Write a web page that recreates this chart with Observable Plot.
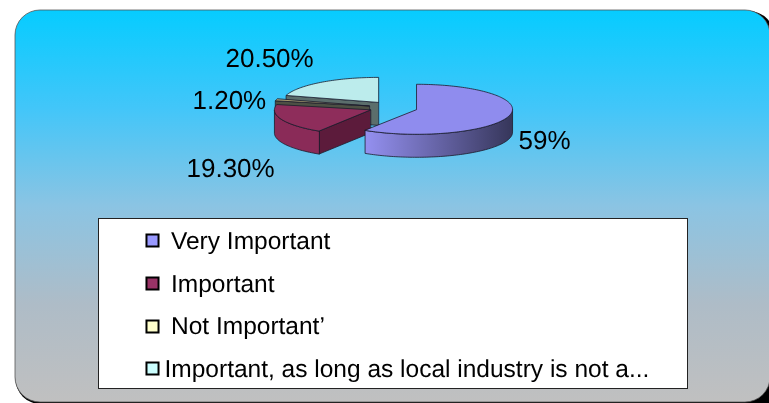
<!DOCTYPE html>
<html>
<head>
<meta charset="utf-8">
<script src="https://cdn.jsdelivr.net/npm/d3@7"></script>
<script src="https://cdn.jsdelivr.net/npm/@observablehq/plot@0.6"></script>
<style>
html,body{margin:0;padding:0;background:#fff;overflow:hidden}
svg{display:block;filter:blur(0.35px);text-rendering:geometricPrecision}
</style>
</head>
<body>
<div id="chart"></div>
<script>
const categories = ["Very Important", "Important", "Not Important’", "Important, as long as local industry is not a..."];
const values = [59, 19.3, 1.2, 20.5];
const valueLabels = ["59%", "19.30%", "1.20%", "20.50%"];
const swatchColors = ["#9999ff", "#993366", "#ffffcc", "#ccffff"];

const W = 769, H = 403, FONT = "Liberation Sans, Arial, sans-serif";

// pie geometry: exploded, tilted pie
const C0 = [392.5, 107], RX = 96, RY = 25, DEPTH = 23, EXPLODE = 24.5;
const topFill = ["#8f8cee", "#8e2d5b", "#a89c70", "#bcecec"];
const cutFill = ["#3f3f68", "#5c1b3b", "#4d5044", "#5b6e6c"];
const sideFill = ["url(#sideA)", "#8a2b58", "#6e6a50", "#7ca0a0"];

const total = d3.sum(values);
let acc = 0;
const slices = values.map((v, i) => {
  const a0 = acc / total * 2 * Math.PI; acc += v;
  const a1 = acc / total * 2 * Math.PI;
  const mid = (a0 + a1) / 2;
  const c = [C0[0] + EXPLODE * Math.sin(mid), C0[1] - EXPLODE * Math.cos(mid) * RY / RX];
  return {i, a0, a1, c};
});
const rim = (s, a, dz = 0) => [s.c[0] + RX * Math.sin(a), s.c[1] - RY * Math.cos(a) + dz];
const arc = (s, a0, a1, dz = 0) => {
  const n = Math.max(2, Math.ceil((a1 - a0) * 40));
  return d3.range(n + 1).map(k => rim(s, a0 + (a1 - a0) * k / n, dz));
};
const polys = [];
for (const i of [3, 2, 1, 0]) {
  const s = slices[i];
  const low = p => [p[0], p[1] + DEPTH];
  if (s.a0 > Math.PI) {
    const r = rim(s, s.a0);
    polys.push({pts: [s.c, r, low(r), low(s.c)], fill: cutFill[i]});
  }
  if (s.a1 < Math.PI) {
    const r = rim(s, s.a1);
    polys.push({pts: [s.c, r, low(r), low(s.c)], fill: cutFill[i]});
  }
  const f0 = Math.max(s.a0, Math.PI / 2), f1 = Math.min(s.a1, 1.5 * Math.PI);
  if (f1 > f0) {
    polys.push({pts: [...arc(s, f0, f1), ...arc(s, f0, f1, DEPTH).reverse()], fill: sideFill[i]});
  }
  polys.push({pts: [s.c, ...arc(s, s.a0, s.a1)], fill: topFill[i]});
}

const gradStops = [[0, "#06ccff"], [25, "#42c6f9"], [50, "#8bc4e3"], [75, "#aebcc7"], [100, "#c0c0c0"]];
const defs = () => {
  const d = d3.create("svg:defs");
  const bg = d.append("linearGradient").attr("id", "bgGrad").attr("x1", 0).attr("x2", 0).attr("y1", 0).attr("y2", 1);
  for (const [o, c] of gradStops) bg.append("stop").attr("offset", o + "%").attr("stop-color", c);
  const side = d.append("linearGradient").attr("id", "sideA").attr("gradientUnits", "userSpaceOnUse")
    .attr("x1", 365).attr("x2", 512).attr("y1", 0).attr("y2", 0);
  side.append("stop").attr("offset", "0%").attr("stop-color", "#9490f0");
  side.append("stop").attr("offset", "100%").attr("stop-color", "#36365a");
  return d.node();
};

const labelRows = [
  {t: valueLabels[0], x: 518, y: 148},
  {t: valueLabels[1], x: 186, y: 176},
  {t: valueLabels[2], x: 192, y: 108},
  {t: valueLabels[3], x: 225, y: 66}
];
const legendRows = categories.map((c, i) => ({
  c, col: swatchColors[i],
  sy: [240, 283, 326, 368][i],
  ty: [248, 291, 333, 376][i],
  tx: i === 3 ? 164 : 170.5
}));

const chart = Plot.plot({
  width: W, height: H, margin: 0,
  style: {background: "white"},
  x: {domain: [0, W], range: [0, W], axis: null},
  y: {domain: [0, H], range: [0, H], axis: null},
  marks: [
    defs,
    Plot.rect([0], {x1: 15.5, x2: 774, y1: 11, y2: 404, rx: 25, fill: "#000"}),
    Plot.rect([0], {x1: 745, x2: 769, y1: 380, y2: 403, fill: "#000"}),
    Plot.rect([0], {x1: 15, x2: 770, y1: 10, y2: 402, rx: 25, fill: "url(#bgGrad)", stroke: "#555", strokeWidth: 0.8}),
    ...polys.map(p => Plot.line(p.pts, {x: d => d[0], y: d => d[1], fill: p.fill, stroke: "#1c1c2c", strokeWidth: 0.8, curve: "linear-closed"})),
    Plot.text(labelRows, {x: "x", y: "y", text: "t", textAnchor: "start", lineAnchor: "bottom", fontSize: 26, fontFamily: FONT, fill: "#000"}),
    Plot.rect([0], {x1: 98.5, x2: 687.5, y1: 218.5, y2: 388.5, fill: "#fff", stroke: "#222", strokeWidth: 1}),
    Plot.dot(legendRows, {x: 152, y: "sy", symbol: "square", r: 6.8, fill: "col", stroke: "#000", strokeWidth: 2}),
    Plot.text(legendRows, {x: "tx", y: "ty", text: "c", textAnchor: "start", lineAnchor: "bottom", fontSize: 24.5, fontFamily: FONT, fill: "#000"})
  ]
});
document.getElementById("chart").append(chart);
</script>
</body>
</html>
